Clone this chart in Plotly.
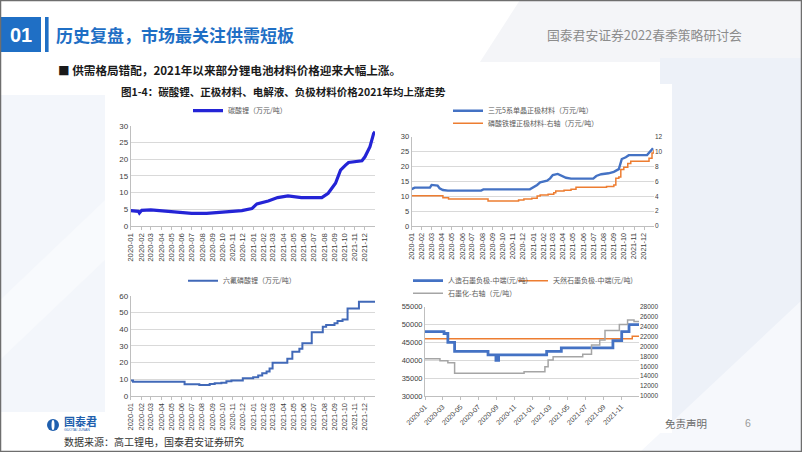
import plotly.graph_objects as go

W, H = 802, 452


def px(x):
    return x / W


def py(y):
    return 1 - y / H


# ---------------- data ----------------
month_ticks = ['2020-01-01', '2020-02-01', '2020-03-01', '2020-04-01', '2020-05-01', '2020-06-01',
               '2020-07-01', '2020-08-01', '2020-09-01', '2020-10-01', '2020-11-01', '2020-12-01',
               '2021-01-01', '2021-02-01', '2021-03-01', '2021-04-01', '2021-05-01', '2021-06-01',
               '2021-07-01', '2021-08-01', '2021-09-01', '2021-10-01', '2021-11-01', '2021-12-01']
month_labels = ['2020-01', '2020-02', '2020-03', '2020-04', '2020-05', '2020-06',
                '2020-07', '2020-08', '2020-09', '2020-10', '2020-11', '2020-12',
                '2021-01', '2021-02', '2021-03', '2021-04', '2021-05', '2021-06',
                '2021-07', '2021-08', '2021-09', '2021-10', '2021-11', '2021-12']
bimonth_ticks = ['2020-01-01', '2020-03-01', '2020-05-01', '2020-07-01', '2020-09-01', '2020-11-01',
                 '2021-01-01', '2021-03-01', '2021-05-01', '2021-07-01', '2021-09-01', '2021-11-01']
bimonth_labels = ['2020-01', '2020-03', '2020-05', '2020-07', '2020-09', '2020-11',
                  '2021-01', '2021-03', '2021-05', '2021-07', '2021-09', '2021-11']

# 碳酸锂 (万元/吨)
li2co3_dates = ['2020-01-01', '2020-01-15', '2020-01-24', '2020-01-27', '2020-02-03', '2020-03-01',
                '2020-04-01', '2020-05-15', '2020-07-01', '2020-08-15', '2020-10-08', '2020-11-28',
                '2020-12-28', '2021-01-12', '2021-02-15', '2021-03-15', '2021-04-15', '2021-05-25',
                '2021-07-25', '2021-08-13', '2021-09-04', '2021-09-19', '2021-10-04', '2021-10-13',
                '2021-11-22', '2021-12-01', '2021-12-16', '2021-12-27', '2021-12-31']
li2co3_vals = [4.6, 4.5, 4.4, 3.9, 4.7, 4.8,
               4.6, 4.2, 3.8, 3.8, 4.1, 4.6,
               5.2, 6.6, 7.5, 8.5, 9.0, 8.5,
               8.5, 9.8, 12.8, 16.7, 18.2, 19.0,
               19.5, 20.7, 23.7, 27.7, 28.2]

# 三元5系单晶正极材料 (万元/吨, 左轴)
ncm_dates = ['2020-01-01', '2020-01-10', '2020-02-25', '2020-03-01', '2020-03-19', '2020-03-25',
             '2020-04-04', '2020-04-19', '2020-07-28', '2020-08-04', '2020-12-22', '2021-01-01',
             '2021-01-13', '2021-01-22', '2021-02-12', '2021-02-21', '2021-03-01', '2021-03-16',
             '2021-04-01', '2021-04-10', '2021-04-25', '2021-07-01', '2021-07-10', '2021-07-25',
             '2021-08-16', '2021-09-01', '2021-09-16', '2021-09-25', '2021-10-07', '2021-10-16',
             '2021-12-10', '2021-12-19', '2021-12-28']
ncm_vals = [12.4, 12.9, 12.9, 13.8, 13.6, 12.7,
            12.1, 11.9, 11.9, 12.3, 12.3, 12.9,
            13.8, 14.7, 15.2, 16.0, 17.1, 17.5,
            16.6, 16.2, 15.9, 15.9, 16.8, 17.4,
            17.7, 18.2, 19.1, 22.5, 23.1, 23.8,
            23.8, 25.0, 26.1]

# 磷酸铁锂正极材料 (万元/吨, 右轴)
lfp_dates = ['2020-01-01', '2020-03-31', '2020-04-04', '2020-04-21', '2020-08-12', '2020-08-18',
             '2020-11-06', '2020-11-18', '2020-12-04', '2020-12-28', '2021-01-13', '2021-01-22',
             '2021-02-15', '2021-03-04', '2021-03-10', '2021-04-04', '2021-04-25', '2021-05-10',
             '2021-08-04', '2021-08-10', '2021-08-25', '2021-09-01', '2021-09-07', '2021-09-16',
             '2021-09-22', '2021-10-01', '2021-10-13', '2021-10-22', '2021-12-07', '2021-12-16',
             '2021-12-25', '2021-12-31']
lfp_vals = [4.05, 4.05, 3.8, 3.63, 3.63, 3.36,
            3.36, 3.5, 3.63, 3.72, 4.03, 4.17,
            4.26, 4.48, 4.7, 4.8, 4.93, 5.2,
            5.2, 5.3, 5.3, 5.5, 6.4, 6.6,
            7.6, 7.9, 8.4, 8.7, 8.7, 9.1,
            9.8, 10.2]

# 六氟磷酸锂 (万元/吨)
lipf6_dates = ['2020-01-01', '2020-01-08', '2020-06-10', '2020-07-24', '2020-08-24', '2020-09-08',
               '2020-09-28', '2020-10-13', '2020-10-28', '2020-12-01', '2021-01-01', '2021-01-16',
               '2021-01-28', '2021-02-10', '2021-02-19', '2021-02-28', '2021-04-13', '2021-04-28',
               '2021-05-19', '2021-05-28', '2021-06-25', '2021-07-28', '2021-08-07', '2021-09-01',
               '2021-09-10', '2021-09-25', '2021-10-10', '2021-11-13', '2021-12-31']
lipf6_vals = [9.2, 8.5, 7.0, 6.6, 7.2, 7.6,
              8.0, 8.8, 9.2, 10.6, 11.2, 12.2,
              13.6, 14.6, 16.5, 19.9, 22.3, 26.5,
              28.3, 31.5, 38.1, 41.5, 42.5, 43.5,
              44.8, 45.8, 52.4, 56.4, 56.4]

# 人造石墨负极-中端 (元/吨, 左轴)
art_dates = ['2020-01-01', '2020-03-06', '2020-03-19', '2020-04-11', '2020-08-03', '2020-08-30',
             '2020-09-08', '2021-02-19', '2021-04-10', '2021-10-03', '2021-11-02', '2021-11-27',
             '2021-12-31']
art_vals = [48000, 47500, 45000, 42500, 41500, 40000,
            41500, 42500, 43500, 45500, 48000, 50000,
            50000]

# 天然石墨负极-中端 (元/吨, 左轴)
nat_dates = ['2020-01-01', '2021-12-08', '2021-12-31']
nat_vals = [46000, 46700, 46700]

# 石墨化-右轴 (元/吨)
gph_dates = ['2020-01-01', '2020-02-21', '2020-03-19', '2020-04-11', '2020-12-04', '2021-02-13',
             '2021-02-24', '2021-03-13', '2021-06-22', '2021-07-22', '2021-08-19', '2021-09-06',
             '2021-10-25', '2021-11-22', '2021-12-14', '2021-12-31']
gph_vals = [17500, 17100, 16700, 14600, 14900, 15900,
            17250, 17900, 18400, 20300, 21300, 23200,
            24400, 25300, 25000, 25000]

# ---------------- figure ----------------
fig = go.Figure()

fig.add_trace(go.Scatter(x=li2co3_dates, y=li2co3_vals, xaxis='x', yaxis='y', mode='lines',
                         line=dict(color='#2424d6', width=3.2), name='碳酸锂（万元/吨）',
                         legend='legend'))
fig.add_trace(go.Scatter(x=ncm_dates, y=ncm_vals, xaxis='x2', yaxis='y2', mode='lines',
                         line=dict(color='#4472c4', width=2.4), name='三元5系单晶正极材料（万元/吨）',
                         legend='legend2'))
fig.add_trace(go.Scatter(x=lfp_dates, y=lfp_vals, xaxis='x2', yaxis='y3', mode='lines',
                         line=dict(color='#ed7d31', width=1.5, shape='hv'),
                         name='磷酸铁锂正极材料-右轴（万元/吨）', legend='legend3'))
fig.add_trace(go.Scatter(x=lipf6_dates, y=lipf6_vals, xaxis='x3', yaxis='y4', mode='lines',
                         line=dict(color='#4169b8', width=2, shape='hv'), name='六氟磷酸锂（万元/吨）',
                         legend='legend4'))
fig.add_trace(go.Scatter(x=gph_dates, y=gph_vals, xaxis='x4', yaxis='y6', mode='lines',
                         line=dict(color='#a5a5a5', width=1.5, shape='hv'), name='石墨化-右轴（元/吨）',
                         legend='legend7'))
fig.add_trace(go.Scatter(x=nat_dates, y=nat_vals, xaxis='x4', yaxis='y5', mode='lines',
                         line=dict(color='#ed7d31', width=1.5, shape='hv'), name='天然石墨负极-中端(元/吨)',
                         legend='legend6'))
fig.add_trace(go.Scatter(x=art_dates, y=art_vals, xaxis='x4', yaxis='y5', mode='lines',
                         line=dict(color='#4472c4', width=2.8, shape='hv'), name='人造石墨负极-中端(元/吨)',
                         legend='legend5'))

TICKC = '#404040'
FONT = 'Liberation Sans, Arial, sans-serif'
CJK = 'Noto Sans CJK SC'


def xdate(domain, anchor, tickvals, ticktext, angle, size):
    return dict(domain=domain, anchor=anchor, type='date', range=['2020-01-01', '2021-12-31'],
                tickmode='array', tickvals=tickvals, ticktext=ticktext, tickangle=angle,
                tickfont=dict(family=FONT, size=size, color=TICKC), automargin=False,
                showgrid=False, showline=True, linecolor='#bfbfbf', linewidth=1,
                ticks='outside', ticklen=3, tickcolor='#bfbfbf', zeroline=False, fixedrange=True)


def yax(domain, anchor, rng, dtick, size, side='left', overlaying=None, grid=True, line=True):
    d = dict(domain=domain, anchor=anchor, range=rng, dtick=dtick, tick0=rng[0], side=side,
             tickfont=dict(family=FONT, size=size, color=TICKC), tickformat='d', automargin=False,
             showgrid=grid, gridcolor='#d9d9d9', gridwidth=1, zeroline=False,
             showline=line, linecolor='#bfbfbf', linewidth=1, ticks='', fixedrange=True)
    if overlaying:
        d['overlaying'] = overlaying
    return d


P1x = [px(130.7), px(375)]
P1y = [py(226), py(125.7)]
P2x = [px(411.7), px(654)]
P2y = [py(226), py(136.7)]
P3x = [px(130.7), px(375)]
P3y = [py(396), py(295.7)]
P4x = [px(425), px(639)]
P4y = [py(396), py(306.7)]

shapes = []


def rect(x0, y0, x1, y1, fill, line=None, lw=0, layer='below'):
    shapes.append(dict(type='rect', xref='paper', yref='paper', x0=px(x0), x1=px(x1),
                       y0=py(y1), y1=py(y0), fillcolor=fill, layer=layer,
                       line=dict(color=line or fill, width=lw)))


def poly(points, fill):
    path = 'M ' + ' L '.join(f'{px(a):.5f},{py(b):.5f}' for a, b in points) + ' Z'
    shapes.append(dict(type='path', xref='paper', yref='paper', path=path, fillcolor=fill,
                       line=dict(width=0), layer='below'))


# background decoration
poly([(520, 0), (802, 0), (802, 62), (480, 62)], '#f4f5f8')
rect(660, 58, 802, 452, '#edf1f8')
poly([(640, 452), (802, 300), (802, 452)], '#f6f8fc')
poly([(0, 95), (105, 95), (105, 412), (0, 412)], '#f3f6fb')
poly([(0, 300), (105, 200), (105, 260), (0, 360)], '#f8fafd')
# white chart area
rect(105, 84, 672, 433, '#ffffff')
# header
rect(0, 17, 41, 52, '#1f6fc5')
rect(45, 17, 48.6, 52, '#1f6fc5')
# logo icon
shapes.append(dict(type='circle', xref='paper', yref='paper', x0=px(47), x1=px(59), y0=py(431), y1=py(419),
                   fillcolor='#1f5fae', line=dict(width=0), layer='below'))
shapes.append(dict(type='circle', xref='paper', yref='paper', x0=px(51.5), x1=px(54.5), y0=py(430), y1=py(420),
                   fillcolor='#ffffff', line=dict(width=0), layer='below'))
# slide border
shapes.append(dict(type='rect', xref='paper', yref='paper', x0=0, x1=1, y0=0, y1=1,
                   line=dict(color='#6e6e6e', width=2.5), fillcolor='rgba(0,0,0,0)', layer='above'))

annotations = []


def text(x, y, s, size, color, family=CJK, anchor='left', bold=False):
    annotations.append(dict(xref='paper', yref='paper', x=px(x), y=py(y), text=(f'<b>{s}</b>' if bold else s),
                            showarrow=False, xanchor=anchor, yanchor='middle',
                            font=dict(family=family, size=size, color=color)))


text(20.5, 34.5, '01', 20, '#ffffff', family=FONT, anchor='center', bold=True)
text(54, 34, '历史复盘，市场最关注供需短板', 17, '#1f6fc5', bold=True)
text(545, 35, '国泰君安证券2022春季策略研讨会', 12.8, '#8c8c8c')
text(56, 70, '■ 供需格局错配，2021年以来部分锂电池材料价格迎来大幅上涨。', 11.6, '#1a1a1a', bold=True)
text(119, 92, '图1-4：碳酸锂、正极材料、电解液、负极材料价格2021年均上涨走势', 10.5, '#1a1a1a', bold=True)
text(62, 421, '国泰君', 11, '#1f5fae', bold=True)
text(62, 430, 'GUOTAI JUNAN', 3.5, '#1f5fae', family=FONT)
text(62, 441, '数据来源：高工锂电，国泰君安证券研究', 10, '#333333')
text(709, 423, '免责声明', 10.5, '#6b6b6b', anchor='right')
text(748, 423, '6', 10.5, '#9a9a9a', family=FONT, anchor='center')

LEGF = dict(family=CJK, size=7, color='#595959')


def leg(xline_end, y):
    return dict(x=px(xline_end - 35), y=py(y), xanchor='left', yanchor='middle', bgcolor='rgba(0,0,0,0)',
                borderwidth=0, font=LEGF, orientation='v', itemclick=False, itemdoubleclick=False)


fig.update_layout(
    template='none',
    width=W, height=H, margin=dict(l=0, r=0, t=0, b=0, autoexpand=False),
    paper_bgcolor='#ffffff', plot_bgcolor='rgba(0,0,0,0)', showlegend=True,
    xaxis=xdate(P1x, 'y', month_ticks, month_labels, -90, 7.8),
    yaxis=yax(P1y, 'x', [0, 30], 5, 8),
    xaxis2=xdate(P2x, 'y2', month_ticks, month_labels, -90, 7.3),
    yaxis2=yax(P2y, 'x2', [0, 30], 5, 7.5),
    yaxis3=yax(P2y, 'x2', [0, 12], 2, 6.5, side='right', overlaying='y2', grid=False, line=False),
    xaxis3=xdate(P3x, 'y4', month_ticks, month_labels, -90, 7.5),
    yaxis4=yax(P3y, 'x3', [0, 60], 10, 8),
    xaxis4=xdate(P4x, 'y5', bimonth_ticks, bimonth_labels, -45, 7),
    yaxis5=yax(P4y, 'x4', [30000, 55000], 5000, 7.5),
    yaxis6=yax(P4y, 'x4', [10000, 28000], 2000, 6.5, side='right', overlaying='y5', grid=False, line=False),
    legend=leg(223, 110.7),
    legend2=leg(483, 110.7),
    legend3=leg(483, 123.3),
    legend4=leg(218, 280.7),
    legend5=leg(443, 280.7),
    legend6=leg(548, 280.7),
    legend7=leg(443, 293.3),
    shapes=shapes,
    annotations=annotations,
)

fig.write_html('out.html', config={'displayModeBar': False, 'staticPlot': True},
               post_script="document.body.style.margin='0';document.body.style.overflow='hidden';")
